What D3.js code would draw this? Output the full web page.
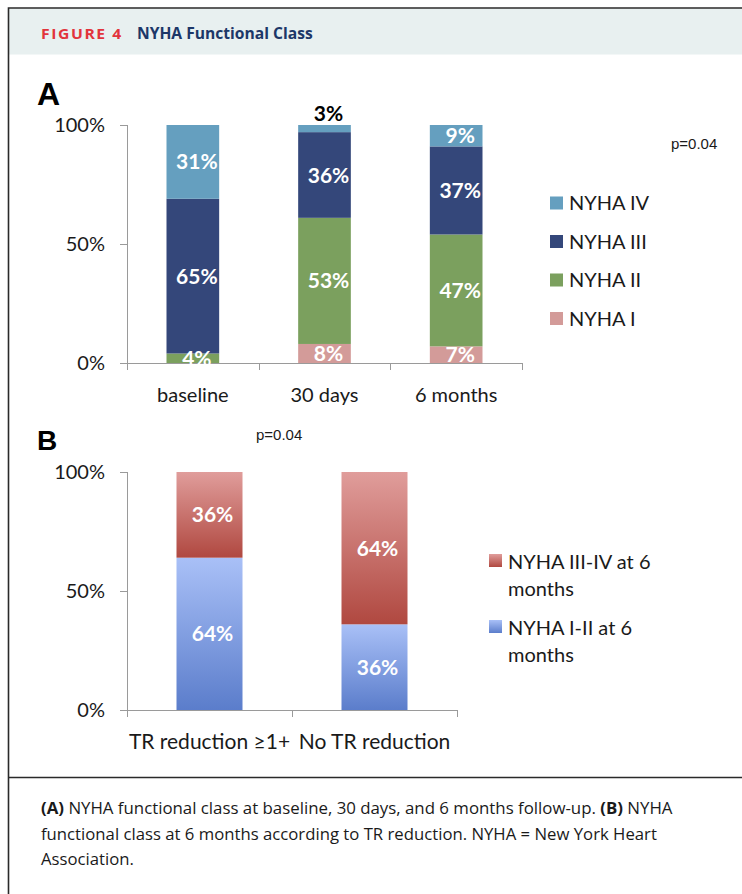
<!DOCTYPE html>
<html><head><meta charset="utf-8">
<script src="https://cdn.jsdelivr.net/npm/d3@7"></script>
<style>
html,body{margin:0;padding:0;background:#fff;}
svg{display:block;}
</style></head>
<body>
<script>
// ---------- DATA ----------
const catsA = ["baseline", "30 days", "6 months"];
const seriesA = ["NYHA I", "NYHA II", "NYHA III", "NYHA IV"];
const nyhaI   = [0, 8, 7];
const nyhaII  = [4, 53, 47];
const nyhaIII = [65, 36, 37];
const nyhaIV  = [31, 3, 9];
const legendA = ["NYHA IV", "NYHA III", "NYHA II", "NYHA I"];

const catsB = ["TR reduction \u22651+", "No TR reduction"];
const seriesB = ["NYHA I-II at 6 months", "NYHA III-IV at 6 months"];
const nyhaI_II   = [64, 36];
const nyhaIII_IV = [36, 64];

const yTicks = [0, 50, 100];
const pValueA = "p=0.04";
const pValueB = "p=0.04";

// ---------- SETUP ----------
const W = 742, H = 894;
const svg = d3.select("body").append("svg").attr("width", W).attr("height", H);
const FONT = "Lato, 'Open Sans', sans-serif";
const AX = "#9a9a9a";

// squeeze a text node horizontally, anchored at x0
function scaleX(sel, x0, s) {
  sel.attr("transform", `translate(${x0},0) scale(${s},1) translate(${-x0},0)`);
}
function fitWidth(sel, x0, target) {
  const s = target / sel.node().getComputedTextLength();
  scaleX(sel, x0, s);
  return s;
}

// frame + header
svg.append("rect").attr("x", 8.5).attr("y", 8.5).attr("width", W).attr("height", 46)
  .attr("fill", "#e8f0f0");
svg.append("path").attr("d", `M${W+2},8 H8.5 V${H+2}`).attr("fill", "none").attr("stroke", "#2a2a2a").attr("stroke-width", 1.6);
svg.append("line").attr("x1", 8).attr("x2", W).attr("y1", 777.5).attr("y2", 777.5).attr("stroke", "#2a2a2a").attr("stroke-width", 1.6);

const t1 = svg.append("text").attr("x", 41).attr("y", 39).attr("font-family", "'Open Sans', sans-serif")
  .attr("font-weight", 700).attr("font-size", 15).attr("letter-spacing", 1.5).attr("fill", "#e2343c").text("FIGURE 4");
fitWidth(t1, 41, 82);
const t2 = svg.append("text").attr("x", 137).attr("y", 39).attr("font-family", "'Open Sans', sans-serif")
  .attr("font-weight", 700).attr("font-size", 15.5).attr("fill", "#1c3768").text("NYHA Functional Class");
fitWidth(t2, 137, 176);

// panel letters
svg.append("text").attr("x", 37).attr("y", 105).attr("font-family", "'Liberation Sans', Arial, sans-serif")
  .attr("font-weight", 700).attr("font-size", 32).attr("fill", "#000").text("A");
svg.append("text").attr("x", 37).attr("y", 450).attr("font-family", "'Liberation Sans', Arial, sans-serif")
  .attr("font-weight", 700).attr("font-size", 28).attr("fill", "#000").text("B");

// ---------- PANEL A ----------
const colorsA = {"NYHA I": "#d39b99", "NYHA II": "#7ba05e", "NYHA III": "#34477a", "NYHA IV": "#659fbf"};
const rowsA = catsA.map((c, i) => ({cat: c, "NYHA I": nyhaI[i], "NYHA II": nyhaII[i], "NYHA III": nyhaIII[i], "NYHA IV": nyhaIV[i]}));
const stackA = d3.stack().keys(seriesA)(rowsA);

const xA = d3.scaleBand().domain(catsA).range([127, 522]).paddingInner(0.6).paddingOuter(0.3);
const yA = d3.scaleLinear().domain([0, 100]).range([363, 125]);

function drawYAxis(g, y, x0) {
  g.append("line").attr("x1", x0 + 0.5).attr("x2", x0 + 0.5).attr("y1", y(100)).attr("y2", y(0)).attr("stroke", AX);
  yTicks.forEach(t => {
    g.append("line").attr("x1", x0 - 7).attr("x2", x0).attr("y1", Math.round(y(t)) + 0.5).attr("y2", Math.round(y(t)) + 0.5).attr("stroke", AX);
    g.append("text").attr("x", 105).attr("y", y(t)).attr("dy", "0.36em").attr("text-anchor", "end")
      .attr("font-family", FONT).attr("font-size", 20).attr("fill", "#1a1a1a").text(t + "%");
  });
}
function drawXAxis(g, x, y0, x0, x1, n) {
  g.append("line").attr("x1", x0).attr("x2", x1).attr("y1", y0 + 0.5).attr("y2", y0 + 0.5).attr("stroke", AX);
  const step = (x1 - x0) / n;
  for (let i = 0; i <= n; i++) {
    const xx = Math.round(x0 + step * i) + 0.5;
    g.append("line").attr("x1", xx).attr("x2", xx).attr("y1", y0).attr("y2", y0 + 7).attr("stroke", AX);
  }
}

const gA = svg.append("g");
drawYAxis(gA, yA, 127);
drawXAxis(gA, xA, 363, 127, 522, catsA.length);

stackA.forEach(layer => {
  layer.forEach((d, i) => {
    const v = d[1] - d[0];
    if (v <= 0) return;
    gA.append("rect").attr("x", xA(catsA[i])).attr("width", xA.bandwidth())
      .attr("y", yA(d[1])).attr("height", yA(d[0]) - yA(d[1])).attr("fill", colorsA[layer.key]);
  });
});
stackA.forEach(layer => {
  layer.forEach((d, i) => {
    const v = d[1] - d[0];
    if (v <= 0) return;
    const small = v < 5 && layer.key === "NYHA IV";
    gA.append("text").attr("x", xA(catsA[i]) + xA.bandwidth() / 2 + 4)
      .attr("y", small ? yA(d[1]) - 4 : (yA(d[0]) + yA(d[1])) / 2)
      .attr("dy", small ? "0" : "0.36em").attr("text-anchor", "middle")
      .attr("font-family", FONT).attr("font-weight", 700).attr("font-size", 21)
      .attr("fill", small ? "#000" : "#fff").text(v + "%");
  });
});
catsA.forEach(c => {
  gA.append("text").attr("x", xA(c) + xA.bandwidth() / 2).attr("y", 402).attr("text-anchor", "middle")
    .attr("font-family", FONT).attr("font-size", 20).attr("fill", "#1a1a1a").text(c);
});
legendA.forEach((s, i) => {
  const cy = 203 + i * 38.5;
  gA.append("rect").attr("x", 550).attr("y", cy - 6.5).attr("width", 13).attr("height", 13).attr("fill", colorsA[s]);
  gA.append("text").attr("x", 569).attr("y", cy).attr("dy", "0.36em").attr("font-family", FONT)
    .attr("font-size", 20).attr("fill", "#1a1a1a").text(s);
});
gA.append("text").attr("x", 671).attr("y", 144).attr("dy", "0.36em").attr("font-family", "'Liberation Sans', Arial, sans-serif")
  .attr("font-size", 15).attr("fill", "#1a1a1a").text(pValueA);

// ---------- PANEL B ----------
const defs = svg.append("defs");
const gradRed = defs.append("linearGradient").attr("id", "gRed").attr("x1", 0).attr("x2", 0).attr("y1", 0).attr("y2", 1);
gradRed.append("stop").attr("offset", "0%").attr("stop-color", "#e09d9b");
gradRed.append("stop").attr("offset", "100%").attr("stop-color", "#b04840");
const gradBlue = defs.append("linearGradient").attr("id", "gBlue").attr("x1", 0).attr("x2", 0).attr("y1", 0).attr("y2", 1);
gradBlue.append("stop").attr("offset", "0%").attr("stop-color", "#a9c0f7");
gradBlue.append("stop").attr("offset", "100%").attr("stop-color", "#5b7dcb");
const fillB = {"NYHA I-II at 6 months": "url(#gBlue)", "NYHA III-IV at 6 months": "url(#gRed)"};

const rowsB = catsB.map((c, i) => ({cat: c, "NYHA I-II at 6 months": nyhaI_II[i], "NYHA III-IV at 6 months": nyhaIII_IV[i]}));
const stackB = d3.stack().keys(seriesB)(rowsB);
const xB = d3.scaleBand().domain(catsB).range([127, 457]).paddingInner(0.6).paddingOuter(0.3);
const yB = d3.scaleLinear().domain([0, 100]).range([710, 472]);

const gB = svg.append("g");
drawYAxis(gB, yB, 127);
drawXAxis(gB, xB, 710, 127, 457, catsB.length);
stackB.forEach(layer => {
  layer.forEach((d, i) => {
    gB.append("rect").attr("x", xB(catsB[i])).attr("width", xB.bandwidth())
      .attr("y", yB(d[1])).attr("height", yB(d[0]) - yB(d[1])).attr("fill", fillB[layer.key]);
  });
});
stackB.forEach(layer => {
  layer.forEach((d, i) => {
    const v = d[1] - d[0];
    gB.append("text").attr("x", xB(catsB[i]) + xB.bandwidth() / 2 + 3)
      .attr("y", (yB(d[0]) + yB(d[1])) / 2).attr("dy", "0.36em").attr("text-anchor", "middle")
      .attr("font-family", FONT).attr("font-weight", 700).attr("font-size", 21).attr("fill", "#fff").text(v + "%");
  });
});
catsB.forEach(c => {
  gB.append("text").attr("x", xB(c) + xB.bandwidth() / 2).attr("y", 749).attr("text-anchor", "middle")
    .attr("font-family", FONT).attr("font-size", 21).attr("fill", "#1a1a1a").text(c);
});
const legendB = [
  {key: "NYHA III-IV at 6 months", lines: ["NYHA III-IV at 6", "months"], cy: 562},
  {key: "NYHA I-II at 6 months", lines: ["NYHA I-II at 6", "months"], cy: 628}
];
legendB.forEach(l => {
  gB.append("rect").attr("x", 489).attr("y", l.cy - 8).attr("width", 13).attr("height", 13).attr("fill", fillB[l.key]);
  l.lines.forEach((t, j) => {
    gB.append("text").attr("x", 508).attr("y", l.cy + j * 27).attr("dy", "0.36em").attr("font-family", FONT)
      .attr("font-size", 20).attr("fill", "#1a1a1a").text(t);
  });
});
gB.append("text").attr("x", 256).attr("y", 435).attr("dy", "0.36em").attr("font-family", "'Liberation Sans', Arial, sans-serif")
  .attr("font-size", 15).attr("fill", "#1a1a1a").text(pValueB);

// ---------- CAPTION ----------
const capFont = "'Open Sans', sans-serif";
const cap = [
  {y: 814, parts: [["(A)", 700], [" NYHA functional class at baseline, 30 days, and 6 months follow-up. ", 400], ["(B)", 700], [" NYHA", 400]], w: 632},
  {y: 840, parts: [["functional class at 6 months according to TR reduction. NYHA = New York Heart", 400]], w: 616},
  {y: 865, parts: [["Association.", 400]], w: null}
];
let lastScale = 1;
cap.forEach(l => {
  const t = svg.append("text").attr("x", 41).attr("y", l.y).attr("font-family", capFont).attr("font-size", 16)
    .attr("fill", "#1a1a1a").style("white-space", "pre");
  l.parts.forEach(p => t.append("tspan").attr("font-weight", p[1]).text(p[0]));
  if (l.w) lastScale = fitWidth(t, 41, l.w); else scaleX(t, 41, lastScale);
});
</script>
</body></html>
